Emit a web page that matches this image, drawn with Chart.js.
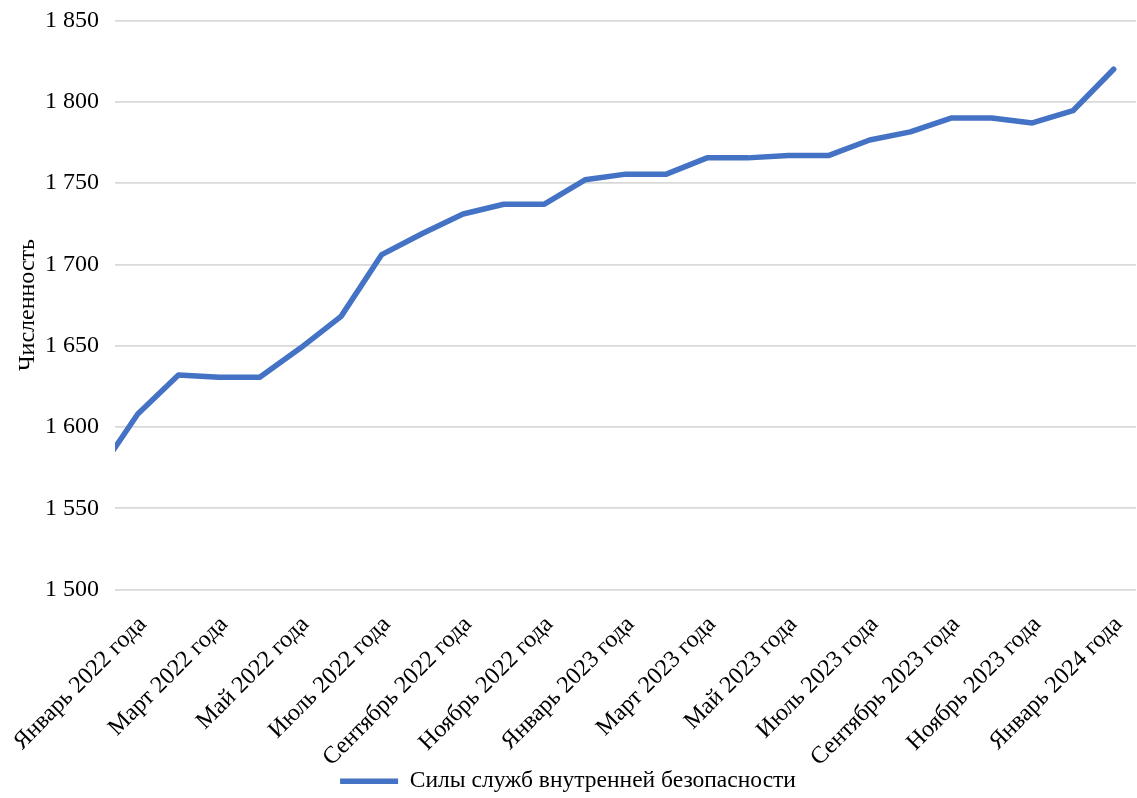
<!DOCTYPE html>
<html>
<head>
<meta charset="utf-8">
<script src="https://cdn.jsdelivr.net/npm/chart.js@4"></script>
<style>
  html, body { margin: 0; padding: 0; background: #fff; }
  #wrap { width: 1137px; height: 798px; }
</style>
</head>
<body>
<div id="wrap"><canvas id="c" width="1137" height="798"></canvas></div>
<script>
const categories = [
  'Декабрь 2021 года',
  'Январь 2022 года', 'Февраль 2022 года', 'Март 2022 года', 'Апрель 2022 года',
  'Май 2022 года', 'Июнь 2022 года', 'Июль 2022 года', 'Август 2022 года',
  'Сентябрь 2022 года', 'Октябрь 2022 года', 'Ноябрь 2022 года', 'Декабрь 2022 года',
  'Январь 2023 года', 'Февраль 2023 года', 'Март 2023 года', 'Апрель 2023 года',
  'Май 2023 года', 'Июнь 2023 года', 'Июль 2023 года', 'Август 2023 года',
  'Сентябрь 2023 года', 'Октябрь 2023 года', 'Ноябрь 2023 года', 'Декабрь 2023 года',
  'Январь 2024 года'
];
const seriesName = 'Силы служб внутренней безопасности';
const values = [
  1571,
  1608, 1632, 1630.5, 1630.5,
  1648.5, 1668, 1706, 1719,
  1731, 1737, 1737, 1752,
  1755.5, 1755.5, 1765.5, 1765.5,
  1767, 1767, 1776.5, 1781.5,
  1790, 1790, 1787, 1794.5,
  1820
];
const labelledIndices = [1, 3, 5, 7, 9, 11, 13, 15, 17, 19, 21, 23, 25];
const yTicks = [1500, 1550, 1600, 1650, 1700, 1750, 1800, 1850];
const yTitle = 'Численность';

const FONT = '"Liberation Serif", "Times New Roman", serif';
const points = values.map((v, i) => ({ x: i, y: v }));

new Chart(document.getElementById('c'), {
  type: 'line',
  data: {
    datasets: [{
      label: seriesName,
      data: points,
      borderColor: '#4472C4',
      backgroundColor: '#4472C4',
      borderWidth: 5.5,
      borderCapStyle: 'round',
      borderJoinStyle: 'round',
      pointRadius: 0,
      pointHoverRadius: 0,
      tension: 0
    }]
  },
  options: {
    responsive: false,
    animation: false,
    events: [],
    layout: { padding: { top: 20.5, right: 1, left: 0, bottom: -5 } },
    plugins: {
      tooltip: { enabled: false },
      legend: {
        position: 'bottom',
        labels: {
          usePointStyle: true,
          pointStyle: 'line',
          pointStyleWidth: 58,
          color: '#000',
          font: { family: FONT, size: 23.5 },
          padding: 2
        }
      }
    },
    scales: {
      x: {
        type: 'linear',
        min: 0.44,
        max: 25.55,
        grid: { display: false, drawTicks: false },
        border: { display: false },
        afterBuildTicks: (axis) => { axis.ticks = labelledIndices.map(v => ({ value: v })); },
        afterFit: (axis) => {
          axis.height = 178;
          axis.paddingLeft = 0; axis.paddingRight = 0;
        },
        ticks: {
          autoSkip: false,
          maxRotation: 45,
          minRotation: 45,
          padding: 21,
          labelOffset: 5,
          color: '#000',
          font: { family: FONT, size: 24 },
          callback: (v) => categories[v] || ''
        }
      },
      y: {
        min: 1500,
        max: 1850,
        afterBuildTicks: (axis) => { axis.ticks = yTicks.map(v => ({ value: v })); },
        afterFit: (axis) => {
          axis.width = 115;
          axis.paddingTop = 0; axis.paddingBottom = 0;
        },
        grid: { color: '#d9d9d9', lineWidth: 1.7, drawTicks: false },
        border: { display: false },
        title: {
          display: true,
          text: yTitle,
          color: '#000',
          font: { family: FONT, size: 24 },
          padding: { top: 13, bottom: 0 }
        },
        ticks: {
          padding: 16,
          color: '#000',
          font: { family: FONT, size: 24 },
          callback: (v) => String(v).replace(/\B(?=(\d{3})+(?!\d))/g, '\u00a0')
        }
      }
    }
  }
});
</script>
</body>
</html>
